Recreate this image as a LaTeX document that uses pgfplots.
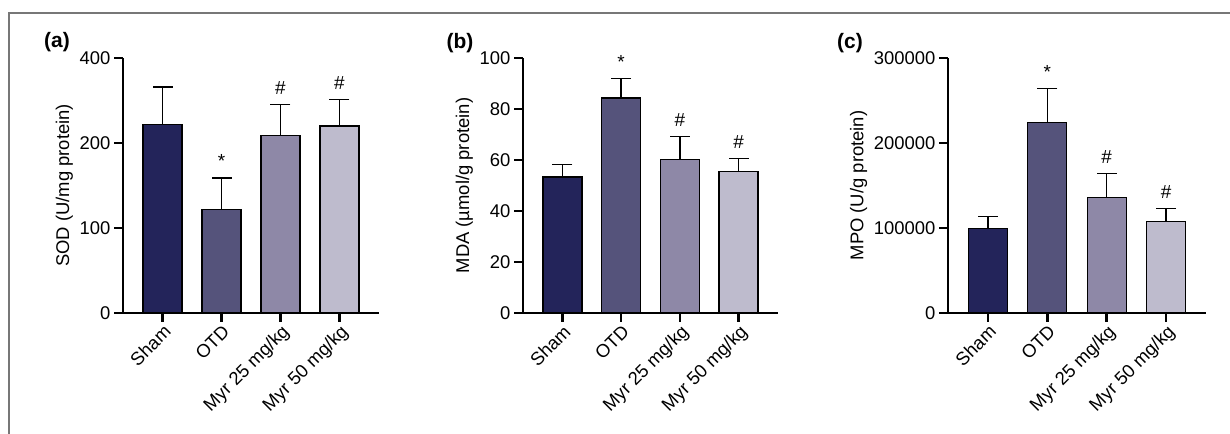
\documentclass[border=0pt]{standalone}
\usepackage{pgfplots}
\pgfplotsset{compat=1.18}
\usepackage{fontspec}
\setmainfont{Liberation Sans}
\definecolor{cSham}{HTML}{23245A}
\definecolor{cOTD}{HTML}{55537B}
\definecolor{cMa}{HTML}{8E88A7}
\definecolor{cMb}{HTML}{BEBBCD}
\definecolor{cFrame}{HTML}{777777}
\pgfplotsset{
  panel/.style={
    scale only axis, width=256bp, height=255bp, anchor=south west,
    axis x line*=bottom, axis y line*=left,
    axis line style={line width=2.6bp, -},
    xmin=-0.67, xmax=3.67, ymin=0,
    xtick={0,1,2,3}, xticklabels={Sham,OTD,Myr 25 mg/kg,Myr 50 mg/kg},
    xticklabel style={rotate=45, anchor=north east, inner sep=1bp},
    tick align=outside, major tick length=9bp,
    tick style={black, line width=2.6bp},
    /pgf/number format/assume math mode=true,
    font=\fontsize{18.5}{21}\selectfont,
    ticklabel style={font=\fontsize{18.5}{21}\selectfont},
    label style={font=\fontsize{18.5}{21}\selectfont},
    clip=false, enlargelimits=false,
  },
  mybar/.style={ybar, bar width=39bp, bar shift=0pt, draw=black, line width=1.4bp},
  errline/.style={black, line width=1.4bp, mark=-, mark size=10bp, mark indices={2},
    mark options={solid, black, line width=1.4bp}},
  sig/.style={draw=none, mark=none, nodes near coords, point meta=explicit symbolic,
    every node near coord/.append style={anchor=base, yshift=10bp, inner sep=0pt, black, font=\fontsize{19}{19}\selectfont}},
}
\begin{document}
\begin{tikzpicture}
\useasboundingbox (0,0) rectangle (1230bp,434bp);
\draw[cFrame, line width=1.3bp] (9bp,0) -- (9bp,421bp) -- (1230bp,421bp);
\node[font=\bfseries\fontsize{21}{22}\selectfont] at (57bp,392bp) {(a)};
\node[font=\bfseries\fontsize{21}{22}\selectfont] at (460bp,391bp) {(b)};
\node[font=\bfseries\fontsize{21}{22}\selectfont] at (850bp,391bp) {(c)};

% (a) SOD, segmented y axis: 0-200 linear, 200-400 compressed by half
\begin{axis}[panel, at={(123bp,121bp)}, ymax=400,
  y coord trafo/.code={\pgfmathparse{#1>200 ? 100+#1/2 : #1}},
  y coord inv trafo/.code={\pgfmathparse{#1>200 ? 2*#1-200 : #1}},
  ytick={0,100,200,400}, yticklabels={0,100,200,400},
  ylabel={SOD (U/mg protein)}]
\addplot[mybar, fill=cSham] coordinates {(0,243)};
\addplot[mybar, fill=cOTD] coordinates {(1,122)};
\addplot[mybar, fill=cMa] coordinates {(2,217)};
\addplot[mybar, fill=cMb] coordinates {(3,240)};
\addplot[errline] coordinates {(0,243) (0,332)};
\addplot[errline] coordinates {(1,122) (1,159)};
\addplot[errline] coordinates {(2,217) (2,290)};
\addplot[errline] coordinates {(3,240) (3,302)};
\addplot[sig] coordinates {(1,159) [*] (2,290) [\#] (3,302) [\#]};
\end{axis}

% (b) MDA
\begin{axis}[panel, at={(523bp,121bp)}, width=255bp, ymax=100,
  ytick={0,20,40,60,80,100},
  ylabel={MDA (µmol/g protein)}]
\addplot[mybar, fill=cSham] coordinates {(0,53.3)};
\addplot[mybar, fill=cOTD] coordinates {(1,84.3)};
\addplot[mybar, fill=cMa] coordinates {(2,60.1)};
\addplot[mybar, fill=cMb] coordinates {(3,55.4)};
\addplot[errline] coordinates {(0,53.3) (0,58.3)};
\addplot[errline] coordinates {(1,84.3) (1,92.0)};
\addplot[errline] coordinates {(2,60.1) (2,69.3)};
\addplot[errline] coordinates {(3,55.4) (3,60.7)};
\addplot[sig] coordinates {(1,92.0) [*] (2,69.3) [\#] (3,60.7) [\#]};
\end{axis}

% (c) MPO
\begin{axis}[panel, at={(948bp,121bp)}, width=258bp, ymax=300000,
  ytick={0,100000,200000,300000}, scaled y ticks=false,
  yticklabel style={/pgf/number format/fixed, /pgf/number format/1000 sep={}},
  ylabel={MPO (U/g protein)}]
\addplot[mybar, fill=cSham] coordinates {(0,99200)};
\addplot[mybar, fill=cOTD] coordinates {(1,223900)};
\addplot[mybar, fill=cMa] coordinates {(2,135700)};
\addplot[mybar, fill=cMb] coordinates {(3,107800)};
\addplot[errline] coordinates {(0,99200) (0,113300)};
\addplot[errline] coordinates {(1,223900) (1,263900)};
\addplot[errline] coordinates {(2,135700) (2,164300)};
\addplot[errline] coordinates {(3,107800) (3,123100)};
\addplot[sig] coordinates {(1,263900) [*] (2,164300) [\#] (3,123100) [\#]};
\end{axis}
\end{tikzpicture}
\end{document}
